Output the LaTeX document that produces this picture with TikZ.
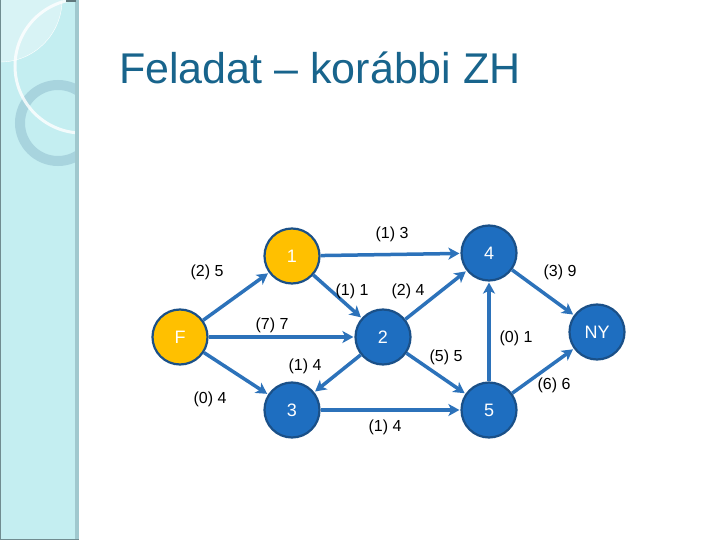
\documentclass[tikz,border=0pt]{standalone}
\usepackage{fontspec}
\setmainfont{Liberation Sans}
\usetikzlibrary{arrows.meta}
\definecolor{side}{RGB}{196,238,241}
\definecolor{sideedge}{RGB}{160,200,206}
\definecolor{ringc}{RGB}{168,212,222}
\definecolor{titlec}{RGB}{24,100,140}
\definecolor{gold}{RGB}{255,192,0}
\definecolor{nblue}{RGB}{30,110,192}
\definecolor{nborder}{RGB}{26,80,136}
\definecolor{ecol}{RGB}{44,114,186}
\tikzset{
  gnode/.style={circle,draw=nborder,line width=2.2pt,fill=gold,minimum size=55pt,inner sep=0pt,text=white,font=\fontsize{18}{20}\selectfont},
  bnode/.style={circle,draw=nborder,line width=2.2pt,fill=nblue,minimum size=55pt,inner sep=0pt,text=white,font=\fontsize{18}{20}\selectfont},
  edge/.style={draw=ecol,line width=3.5pt,-{Stealth[length=11pt,width=12pt,inset=3pt]},shorten >=1pt},
  lab/.style={font=\fontsize{16}{18}\selectfont,text=black,inner sep=0pt}
}
\begin{document}
\begin{tikzpicture}[x=1pt,y=-1pt]
\useasboundingbox (0,0) rectangle (720,540);
\fill[white] (0,0) rectangle (720,540);
% sidebar
\begin{scope}
\clip (0,0) rectangle (78,540);
\fill[side] (0,0) rectangle (78,540);
\fill[white,opacity=0.35] (0,0) circle (62);
\draw[white,line width=0.4pt] (0,0) circle (62);
\draw[ringc,line width=10pt] (58,123) circle (38);
\draw[white,opacity=0.8,line width=3pt] (82,66) circle (67);
\end{scope}
\fill[sideedge] (75,0) rectangle (79,540);
\draw[sideedge!70!black,line width=1pt] (0.5,0) -- (0.5,539.5) -- (79,539.5);
\fill[sideedge!60!black] (66,0) rectangle (76,2);
% title
\node[anchor=base west,text=titlec,font=\fontsize{43}{48}\selectfont,inner sep=0pt] (title) at (119,84) {Feladat – korábbi ZH};
% nodes
\node[gnode] (F) at (180,337) {F};
\node[gnode] (n1) at (292,256) {1};
\node[bnode] (n2) at (383,337) {2};
\node[bnode] (n3) at (292,410) {3};
\node[bnode] (n4) at (489,253) {4};
\node[bnode] (n5) at (489,410) {5};
\node[bnode] (NY) at (597,332) {NY};
% edges
\draw[edge] (F) -- (n1);
\draw[edge] (F) -- (n2);
\draw[edge] (F) -- (n3);
\draw[edge] (n1) -- (n4);
\draw[edge] (n1) -- (n2);
\draw[edge] (n2) -- (n3);
\draw[edge] (n2) -- (n4);
\draw[edge] (n2) -- (n5);
\draw[edge] (n3) -- (n5);
\draw[edge] (n5) -- (n4);
\draw[edge] (n4) -- (NY);
\draw[edge] (n5) -- (NY);
% labels
\node[lab] (l1) at (207,272) {(2) 5};
\node[lab] (l2) at (392,234) {(1) 3};
\node[lab] (l3) at (352,291) {(1) 1};
\node[lab] (l4) at (408,291) {(2) 4};
\node[lab] (l5) at (272,325) {(7) 7};
\node[lab] (l6) at (560,272) {(3) 9};
\node[lab] (l7) at (516,338) {(0) 1};
\node[lab] (l8) at (446,357) {(5) 5};
\node[lab] (l9) at (305,366) {(1) 4};
\node[lab] (l10) at (210,399) {(0) 4};
\node[lab] (l11) at (554,385) {(6) 6};
\node[lab] (l12) at (385,427) {(1) 4};
\end{tikzpicture}
\end{document}
